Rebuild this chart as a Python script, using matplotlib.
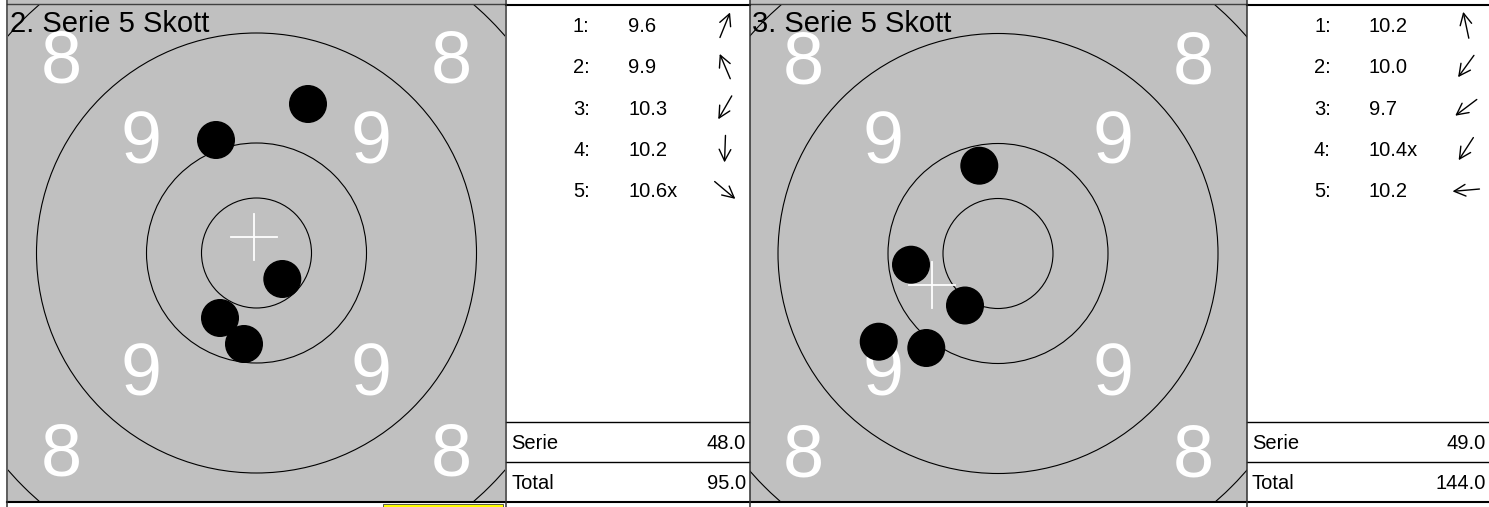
import matplotlib.pyplot as plt
from matplotlib.patches import Circle, Rectangle
import numpy as np

plt.rcParams['font.family'] = ['Liberation Sans', 'DejaVu Sans']

W, H = 1489, 507
HALF = 248.5          # halva tavlans sida (px)
GRA = '#c0c0c0'

# Ringarnas radier i tavlans enheter
ringar = [55, 110, 220, 330]
skott_radie = 18.3

# Serie 2
serie2_titel = '2. Serie 5 Skott'
serie2_nr = ['1:', '2:', '3:', '4:', '5:']
serie2_poang = ['9.6', '9.9', '10.3', '10.2', '10.6x']
serie2_pil = [68, 113, 240, 268, 320]          # pilens riktning (grader)
serie2_x = [51.5, -40.5, -36.5, -12.5, 25.8]   # träffpunkt relativt mitten
serie2_y = [149.0, 113.0, -65.0, -91.0, -26.0]
serie2_summa = '48.0'
serie2_total = '95.0'

# Serie 3
serie3_titel = '3. Serie 5 Skott'
serie3_nr = ['1:', '2:', '3:', '4:', '5:']
serie3_poang = ['10.2', '10.0', '9.7', '10.4x', '10.2']
serie3_pil = [102, 234, 217, 237, 185]
serie3_x = [-18.7, -71.7, -119.3, -33.0, -87.0]
serie3_y = [87.8, -94.5, -88.2, -52.0, -11.2]
serie3_summa = '49.0'
serie3_total = '144.0'

fig = plt.figure(figsize=(W / 100, H / 100), dpi=100)
fig.patch.set_facecolor('white')


def rita_tavla(cx, cy, titel, xs, ys):
    ax = fig.add_axes([(cx - HALF) / W, (H - cy - HALF) / H, 2 * HALF / W, 2 * HALF / H])
    ax.set_xlim(-HALF, HALF)
    ax.set_ylim(-HALF, HALF)
    ax.set_facecolor(GRA)
    ax.set_xticks([])
    ax.set_yticks([])
    for s in ax.spines.values():
        s.set_visible(False)

    # vita siffror
    for sx in (-1, 1):
        for sy in (-1, 1):
            ax.text(sx * 195, sy * 196.5 - 26.4, '8', color='white', fontsize=53,
                    ha='center', va='baseline')
            ax.text(sx * 115, sy * 116 - 26.4, '9', color='white', fontsize=53,
                    ha='center', va='baseline')

    for r in ringar:
        ax.add_patch(Circle((0, 0), r, fill=False, ec='black', lw=0.8))

    # medelträffpunkt
    mx, my = np.mean(xs), np.mean(ys)
    ax.plot([mx - 23.3, mx + 23.3], [my, my], color='white', lw=1.3)
    ax.plot([mx, mx], [my - 23.3, my + 23.3], color='white', lw=1.3)

    for x, y in zip(xs, ys):
        ax.add_patch(Circle((x, y), skott_radie, color='black', zorder=4))

    ax.text(-HALF + 2, 221, titel, fontsize=21, ha='left', va='baseline', zorder=5)


def rita_tabell(ov, x0, x1, nr, poang, pil, summa, total):
    for i in range(len(nr)):
        yc = 25 + 41.3 * i
        ov.text(x0 + 67, yc + 7, nr[i], fontsize=14.5, ha='left', va='baseline')
        ov.text(x0 + 122, yc + 7, poang[i], fontsize=14.5, ha='left', va='baseline')
        vinkel = np.radians(pil[i])
        dx, dy = 13.5 * np.cos(vinkel), -13.5 * np.sin(vinkel)
        ax_c = x0 + 219
        ov.annotate('', xy=(ax_c + dx, yc + dy), xytext=(ax_c - dx, yc - dy),
                    arrowprops=dict(arrowstyle='->,head_length=0.55,head_width=0.28',
                                    lw=1, color='black', shrinkA=0, shrinkB=0,
                                    mutation_scale=15))
    ov.plot([x0, x1], [422, 422], color='black', lw=1)
    ov.plot([x0, x1], [462, 462], color='black', lw=1)
    ov.text(x0 + 5, 449, 'Serie', fontsize=14.5, ha='left', va='baseline')
    ov.text(x1 - 3, 449, summa, fontsize=14.5, ha='right', va='baseline')
    ov.text(x0 + 5, 489, 'Total', fontsize=14.5, ha='left', va='baseline')
    ov.text(x1 - 3, 489, total, fontsize=14.5, ha='right', va='baseline')


rita_tavla(256.5, 253.0, serie2_titel, serie2_x, serie2_y)
rita_tavla(998.0, 253.5, serie3_titel, serie3_x, serie3_y)

ov = fig.add_axes([0, 0, 1, 1], zorder=5)
ov.set_xlim(0, W)
ov.set_ylim(H, 0)
ov.axis('off')
ov.patch.set_alpha(0)

rita_tabell(ov, 506, 749, serie2_nr, serie2_poang, serie2_pil, serie2_summa, serie2_total)
rita_tabell(ov, 1247, 1489, serie3_nr, serie3_poang, serie3_pil, serie3_summa, serie3_total)

# ramar och kanter
ov.add_patch(Rectangle((8, 0), 497, 4, color=GRA, lw=0))
ov.add_patch(Rectangle((750, 0), 497, 4, color=GRA, lw=0))
ov.plot([7, 506], [3.5, 3.5], color='#404040', lw=1)
ov.plot([749, 1247], [3.5, 3.5], color='#404040', lw=1)
ov.plot([506, 750], [5, 5], color='black', lw=1.5)
ov.plot([1247, 1489], [5, 5], color='black', lw=1.5)
ov.plot([7, 1489], [502, 502], color='black', lw=1.5)
for xv in (7, 506, 749.5, 1247):
    ov.plot([xv, xv], [0, 507], color='#303030', lw=1.1)
ov.add_patch(Rectangle((383, 504), 120, 4, facecolor='yellow', edgecolor='#404040', lw=0.6))

fig.savefig('out.png', dpi=100)
